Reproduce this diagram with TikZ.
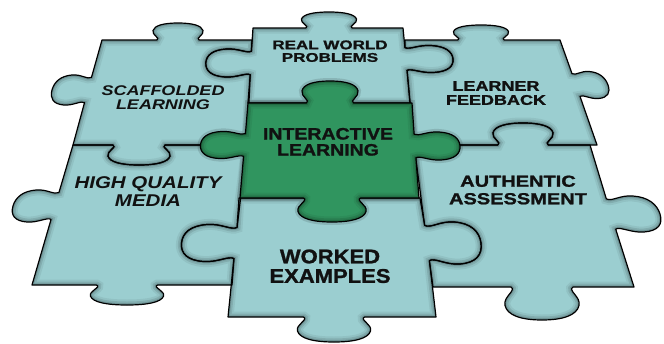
\documentclass[tikz,border=0pt]{standalone}
\usepackage{fontspec}
\setmainfont{Liberation Sans}[BoldFeatures={FakeBold=1.2}]
\usepackage{graphicx}
\definecolor{tealc}{HTML}{9BCED0}
\definecolor{greenc}{HTML}{30955F}
\definecolor{inkc}{HTML}{111111}
% knob on a horizontal edge: centre x, y, signed width (sign = direction of travel), signed height (+ = down)
\newcommand\KV[4]{-- ({#1+(-0.42)*(#3)},{#2}) .. controls ({#1+(-0.34)*(#3)},{#2+(0.1)*(#4)}) and ({#1+(-0.53)*(#3)},{#2+(0.3)*(#4)}) .. ({#1+(-0.5)*(#3)},{#2+(0.56)*(#4)}) .. controls ({#1+(-0.47)*(#3)},{#2+(0.86)*(#4)}) and ({#1+(-0.28)*(#3)},{#2+(#4)}) .. ({#1},{#2+(#4)}) .. controls ({#1+(0.28)*(#3)},{#2+(#4)}) and ({#1+(0.47)*(#3)},{#2+(0.86)*(#4)}) .. ({#1+(0.5)*(#3)},{#2+(0.56)*(#4)}) .. controls ({#1+(0.53)*(#3)},{#2+(0.3)*(#4)}) and ({#1+(0.34)*(#3)},{#2+(0.1)*(#4)}) .. ({#1+(0.42)*(#3)},{#2}) --}
% knob on a (slanted) vertical edge: centre x, y, signed width (+ = downwards travel), signed height (+ = right), slope dx/dy
\newcommand\KH[5]{-- ({#1+(-0.42)*(#3)*(#5)},{#2+(-0.42)*(#3)}) .. controls ({#1+(0.1)*(#4)+(-0.34)*(#3)*(#5)},{#2+(-0.34)*(#3)}) and ({#1+(0.3)*(#4)+(-0.53)*(#3)*(#5)},{#2+(-0.53)*(#3)}) .. ({#1+(0.56)*(#4)+(-0.5)*(#3)*(#5)},{#2+(-0.5)*(#3)}) .. controls ({#1+(0.86)*(#4)+(-0.47)*(#3)*(#5)},{#2+(-0.47)*(#3)}) and ({#1+(#4)+(-0.28)*(#3)*(#5)},{#2+(-0.28)*(#3)}) .. ({#1+(#4)},{#2}) .. controls ({#1+(#4)+(0.28)*(#3)*(#5)},{#2+(0.28)*(#3)}) and ({#1+(0.86)*(#4)+(0.47)*(#3)*(#5)},{#2+(0.47)*(#3)}) .. ({#1+(0.56)*(#4)+(0.5)*(#3)*(#5)},{#2+(0.5)*(#3)}) .. controls ({#1+(0.3)*(#4)+(0.53)*(#3)*(#5)},{#2+(0.53)*(#3)}) and ({#1+(0.1)*(#4)+(0.34)*(#3)*(#5)},{#2+(0.34)*(#3)}) .. ({#1+(0.42)*(#3)*(#5)},{#2+(0.42)*(#3)}) --}
% piece outlines
\def\pSL{(102,40) \KV{178}{40}{50}{-17} (252,40) \KH{250.8}{63}{28}{-45}{-0.05} (247,145) \KV{139}{145}{-62}{20} (73,145) \KH{88}{90}{-30}{-36}{-0.276} cycle}
\def\pRWP{(253,28) \KV{329}{28}{55}{-16} (403,28) \KH{406}{59}{27}{47}{0.093} (410,103) -- (248,103) \KH{250.8}{63}{-28}{-45}{-0.05} cycle}
\def\pLF{(405,40) \KV{481}{40}{55}{-15} (560,40) \KH{576}{85}{27}{32}{0.352} (597,145) \KV{523}{145}{-60}{-22} (414,145) \KH{406}{59}{-27}{47}{0.093} cycle}
\def\pAA{(414,145) \KV{523}{145}{60}{-22} (590,145) \KH{611}{214}{36}{49}{0.31} (634,287) \KV{542}{287}{-74}{33} (433,287) \KH{427}{243}{-42}{54}{0.134} cycle}
\def\pWE{(239,198) -- (420,198) \KH{427}{243}{42}{54}{0.134} (436,317) \KV{334}{317}{-73}{25} (228,317) \KH{235.5}{243}{-37}{-54}{-0.1} cycle}
\def\pHQM{(73,145) \KV{139}{145}{62}{20} (247,145) \KH{235.5}{243}{37}{-54}{-0.1} (232,285) \KV{127}{285}{-73}{20} (32,285) \KH{55}{206}{-32}{-42}{-0.293} cycle}
\def\pIL{(248,103) \KV{330}{103}{56}{-22} (412,103) \KH{415}{146}{28}{45}{0.074} (419,198) \KV{332}{198}{-68}{24} (240,198) \KH{244.5}{145}{-27}{-44}{-0.084} cycle}
% label: y-scale, font size, baselineskip, font switch, lines
\newcommand\lab[5]{\scalebox{1}[#1]{\fontsize{#2}{#3}\selectfont#4\begin{tabular}{@{}c@{}}#5\end{tabular}}}
\tikzset{
  edge/.style={draw=black, line width=1.2pt, line join=round},
  inshade/.style={draw=black, line width=7pt, opacity=0.10,
    preaction={draw=black, line width=11pt, opacity=0.06},
    postaction={draw=black, line width=3.5pt, opacity=0.14}},
  halo/.style={draw=black, line width=6pt, opacity=0.12},
  lbl/.style={inner sep=0pt, text=inkc, font=\bfseries}
}
\begin{document}
\begin{tikzpicture}[x=1pt, y=-1pt]
\fill[white] (0,0) rectangle (664,343);
\useasboundingbox (0,0) rectangle (664,343);
% teal pieces
\fill[tealc] \pSL;
\fill[tealc] \pRWP;
\fill[tealc] \pLF;
\fill[tealc] \pAA;
\fill[tealc] \pWE;
\fill[tealc] \pHQM;
\begin{scope}\clip \pSL; \path[inshade] \pSL; \end{scope}
\begin{scope}\clip \pRWP; \path[inshade] \pRWP; \end{scope}
\begin{scope}\clip \pLF; \path[inshade] \pLF; \end{scope}
\begin{scope}\clip \pAA; \path[inshade] \pAA; \end{scope}
\begin{scope}\clip \pWE; \path[inshade] \pWE; \end{scope}
\begin{scope}\clip \pHQM; \path[inshade] \pHQM; \end{scope}
\path[edge] \pSL;
\path[edge] \pRWP;
\path[edge] \pLF;
\path[edge] \pAA;
\path[edge] \pWE;
\path[edge] \pHQM;
% green centre piece
\path[halo] \pIL;
\fill[greenc] \pIL;
\begin{scope}\clip \pIL; \path[inshade] \pIL; \end{scope}
\path[edge] \pIL;
% labels
\node[lbl] (sl) at (163,100) {\lab{0.78}{18}{18}{\itshape}{SCAFFOLDED\\LEARNING}};
\node[lbl] (rwp) at (330,53) {\lab{0.74}{17}{17}{}{REAL WORLD\\PROBLEMS}};
\node[lbl] (lf) at (496,95) {\lab{0.78}{18}{18}{}{LEARNER\\FEEDBACK}};
\node[lbl] (il) at (328,144) {\lab{0.85}{19.5}{17.6}{}{INTERACTIVE\\LEARNING}};
\node[lbl] (hqm) at (148,194) {\lab{0.83}{20.5}{22.3}{\itshape}{HIGH QUALITY\\MEDIA}};
\node[lbl] (aa) at (518,192) {\lab{0.8}{20}{21.9}{}{AUTHENTIC\\ASSESSMENT}};
\node[lbl] (we) at (330,269) {\lab{0.9}{22}{21.1}{}{WORKED\\EXAMPLES}};
\end{tikzpicture}
\end{document}
